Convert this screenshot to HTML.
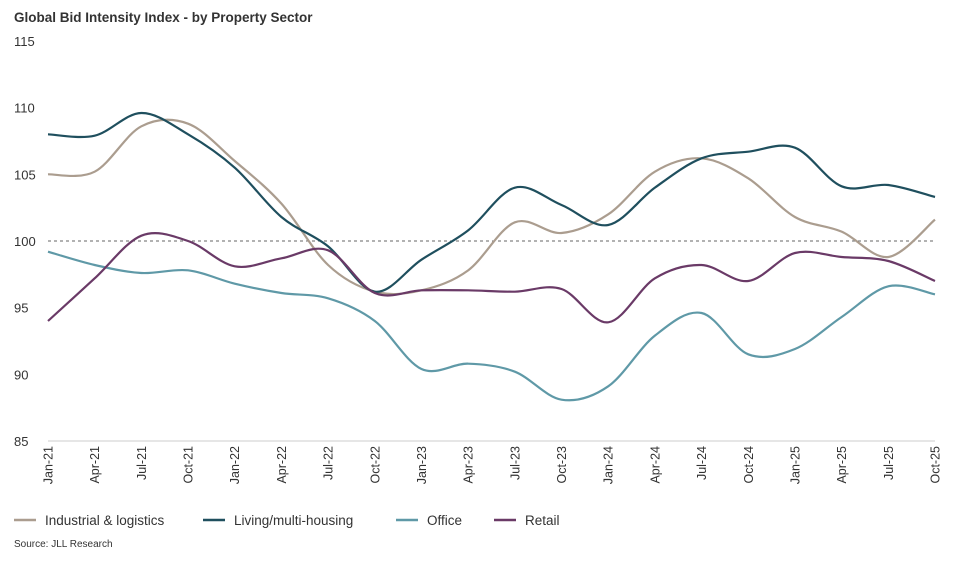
<!DOCTYPE html>
<html><head><meta charset="utf-8"><style>
body{margin:0;background:#fff;font-family:"Liberation Sans",sans-serif;}
svg text{font-family:"Liberation Sans",sans-serif;fill:#333;}
</style></head><body>
<svg id="c" width="962" height="556">
<text x="14" y="22" font-size="13.5" font-weight="bold" fill="#222">Global Bid Intensity Index - by Property Sector</text>
<g id="yax"></g>
<g id="xax"></g>
<g id="ser"></g>
<g id="leg"></g>
<text x="14" y="547" font-size="10" fill="#555">Source: JLL Research</text>
</svg>
<script>
const categories=["Jan-21","Apr-21","Jul-21","Oct-21","Jan-22","Apr-22","Jul-22","Oct-22","Jan-23","Apr-23","Jul-23","Oct-23","Jan-24","Apr-24","Jul-24","Oct-24","Jan-25","Apr-25","Jul-25","Oct-25"];
const yTicks=[85,90,95,100,105,110,115];
const industrial=[105,105.2,108.6,108.8,106,102.8,98.2,96.2,96.3,97.8,101.4,100.6,102,105.2,106.2,104.7,101.8,100.7,98.8,101.6];
const living=[108,107.9,109.6,108,105.5,101.8,99.6,96.2,98.6,100.8,104,102.7,101.2,104,106.2,106.7,107,104.1,104.2,103.3];
const office=[99.2,98.2,97.6,97.8,96.8,96.1,95.7,94,90.4,90.8,90.2,88.1,89.1,92.9,94.6,91.5,91.9,94.3,96.6,96];
const retail=[94,97.2,100.4,100,98.1,98.7,99.3,96.1,96.3,96.3,96.2,96.4,93.9,97.2,98.2,97,99.1,98.8,98.5,97];
const seriesNames=["Industrial & logistics","Living/multi-housing","Office","Retail"];
const NS="http://www.w3.org/2000/svg";
const X0=48,X1=935,Y0=441,Y1=41,YMIN=85,YMAX=115;
const xs=i=>X0+(X1-X0)*i/(categories.length-1);
const ys=v=>Y0-(v-YMIN)/(YMAX-YMIN)*(Y0-Y1);
function mk(t,a,p){const e=document.createElementNS(NS,t);for(const k in a)e.setAttribute(k,a[k]);p.appendChild(e);return e;}
const yax=document.getElementById('yax');
yTicks.forEach(v=>{const t=mk('text',{x:14,y:ys(v)+5,'font-size':13},yax);t.textContent=v;

});
const ref=mk('line',{x1:X0,x2:X1,y1:ys(100),y2:ys(100),stroke:'#666','stroke-dasharray':'3,3','stroke-width':1},yax);


const xax=document.getElementById('xax');
const base=mk('line',{x1:X0,x2:X1,y1:Y0,y2:Y0,stroke:'#ccc'},xax);


categories.forEach((c,i)=>{const x=xs(i);const t=mk('text',{x:0,y:0,'font-size':12.5,'text-anchor':'end',transform:`translate(${x+4.5},${Y0+5}) rotate(-90)`},xax);t.textContent=c;

});
function path(vals){const p=vals.map((v,i)=>[xs(i),ys(v)]);let d=`M${p[0][0]},${p[0][1]}`;
for(let i=0;i<p.length-1;i++){const a=p[Math.max(i-1,0)],b=p[i],c=p[i+1],e=p[Math.min(i+2,p.length-1)];const k=1/6;
d+=` C${b[0]+(c[0]-a[0])*k},${b[1]+(c[1]-a[1])*k} ${c[0]-(e[0]-b[0])*k},${c[1]-(e[1]-b[1])*k} ${c[0]},${c[1]}`;}return d;}
const allSeries=[industrial,living,office,retail];
const colors=["#ab9d8f","#1f4f5e","#5f99a7","#6a3a67"];
const ser=document.getElementById('ser');
allSeries.forEach((s,i)=>{const p=mk('path',{d:path(s),fill:'none',stroke:colors[i],'stroke-width':2.2},ser);

});
const leg=document.getElementById('leg');
const lx=[14,203,396,494];
seriesNames.forEach((n,i)=>{const g=mk('g',{},leg);


mk('line',{x1:lx[i],x2:lx[i]+22,y1:520,y2:520,stroke:colors[i],'stroke-width':2.5},g);
const t=mk('text',{x:lx[i]+31,y:525,'font-size':13.5},g);t.textContent=n;});
</script>
</body></html>
